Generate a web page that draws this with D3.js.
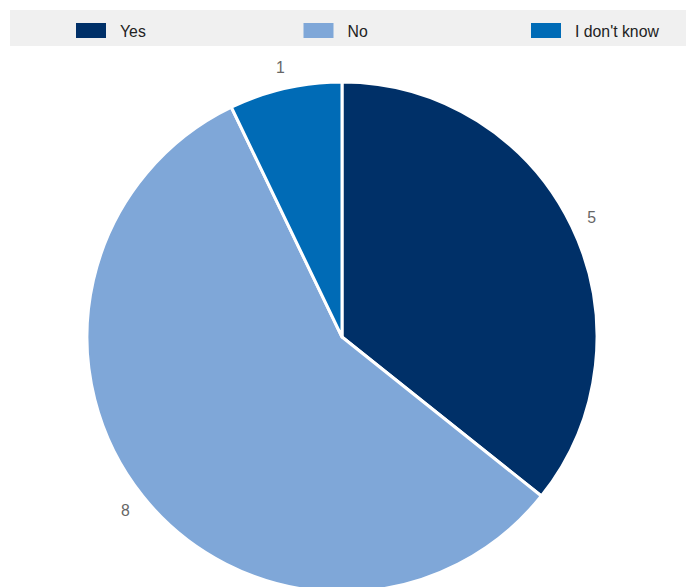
<!DOCTYPE html>
<html><head><meta charset="utf-8">
<script src="https://cdn.jsdelivr.net/npm/d3@7"></script>
<style>
html,body{margin:0;padding:0;background:#fff;overflow:hidden}
text{font-family:"Liberation Sans Narrow","Arial Narrow","Liberation Sans",Arial,sans-serif}
</style></head>
<body>
<script>
const categories = ["Yes", "No", "I don't know"];
const values = [5, 8, 1];
const colors = ["#003068", "#7fa7d8", "#006bb6"];

const W = 686, H = 587;
const svg = d3.select("body").append("svg").attr("width", W).attr("height", H);

// legend
svg.append("rect").attr("x", 10).attr("y", 10).attr("width", 676).attr("height", 36).attr("fill", "#f0f0f0");
const legX = d3.scalePoint().domain(categories).range([76, 531]);
const lg = svg.selectAll("g.leg").data(categories).enter().append("g").attr("class", "leg")
  .attr("transform", d => `translate(${legX(d)},23)`);
lg.append("rect").attr("width", 30).attr("height", 15).attr("fill", (d, i) => colors[i]);
lg.append("text").attr("transform", "translate(44,14) scale(0.93,1)").attr("font-size", 17).attr("fill", "#222").text(d => d);

// pie
const cx = 342, cy = 337, r = 255;
const pie = d3.pie().sort(null).value(d => d.v);
const data = pie(categories.map((c, i) => ({c, v: values[i], col: colors[i]})));
const arc = d3.arc().innerRadius(0).outerRadius(r);
const g = svg.append("g").attr("transform", `translate(${cx},${cy})`);
g.selectAll("path").data(data).enter().append("path")
  .attr("d", arc).attr("fill", d => d.data.col)
  .attr("stroke", "#fff").attr("stroke-width", 3).attr("stroke-linejoin", "round");

const lab = d3.arc().innerRadius(r + 22).outerRadius(r + 22);
g.selectAll("text.lab").data(data).enter().append("text").attr("class", "lab")
  .attr("transform", d => `translate(${lab.centroid(d)}) scale(0.93,1)`)
  .attr("text-anchor", "middle").attr("dy", "0.35em")
  .attr("font-size", 17).attr("fill", "#666")
  .text(d => d.data.v);
</script>
</body></html>
